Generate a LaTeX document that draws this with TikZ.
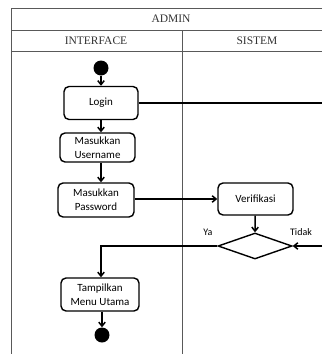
\documentclass[tikz,border=0pt]{standalone}
\usepackage{fontspec}
\setmainfont{Liberation Serif}
\newfontfamily\carlito{Carlito}
\usetikzlibrary{arrows.meta,shapes.geometric}

\begin{document}
\begin{tikzpicture}[x=1pt,y=-1pt,>={Straight Barb[length=4pt,width=6.5pt]},
 act/.style={rounded corners=5pt,draw,line width=1.4pt,align=center,inner sep=2pt,font=\carlito\fontsize{11}{14}\selectfont},
 dot/.style={circle,fill,minimum size=15pt,inner sep=0pt},
 dec/.style={diamond,draw,line width=1.4pt,minimum width=74pt,minimum height=26pt,inner sep=0pt},
 a/.style={->,line width=1.5pt},
 lane/.style={line width=0.8pt,black!65},
 hdr/.style={font=\fontsize{11.5}{13}\selectfont,text=black!80},
 lbl/.style={font=\carlito\fontsize{10}{12}\selectfont}]
\useasboundingbox (0,0) rectangle (322,354);
% swimlane frame
\draw[lane] (322,8) -- (11,8) -- (11,354);
\draw[lane] (11,30) -- (322,30);
\draw[lane] (11,51) -- (322,51);
\draw[lane] (182,30) -- (182,354);
\node[hdr] (admin) at (171,19) {ADMIN};
\node[hdr] (iface) at (96,41) {INTERFACE};
\node[hdr] (sistem) at (257,41) {SISTEM};

\node[dot] (start) at (101,68) {};
\node[act,minimum width=74pt,minimum height=33pt] (login) at (101,103) {Login};
\node[act,minimum width=75pt,minimum height=29pt] (user) at (97.5,147.5) {Masukkan\\Username};
\node[act,minimum width=76pt,minimum height=34pt] (pass) at (96,200) {Masukkan\\Password};
\node[act,minimum width=75pt,minimum height=32pt] (verif) at (255.5,199) {Verifikasi};
\node[dec] (cek) at (255,246) {};
\node[lbl] (ya) at (208,232) {Ya};
\node[lbl] (tidak) at (301,232) {Tidak};
\node[act,minimum width=78pt,minimum height=33pt] (menu) at (100,294.5) {Tampilkan\\Menu Utama};
\node[dot] (end) at (102,335) {};
\coordinate (lout) at (322,103);
\coordinate (din) at (322,246);

\draw[a] (start) -- (login);
\draw[a] (login.south) -- (login.south |- user.north);
\draw[a] (user.south -| login.south) -- (login.south |- pass.north);
\draw[a] (pass.east |- verif.west) -- (verif.west);
\draw[line width=1.5pt] (login.east) -- (lout);
\draw[a] (verif) -- (cek.north);
\draw[a] (din) -- (cek.east);
\draw[a] (cek.west) -| (menu.north -| login.south);
\draw[a] (menu.south -| end) -- (end);
\end{tikzpicture}
\end{document}
